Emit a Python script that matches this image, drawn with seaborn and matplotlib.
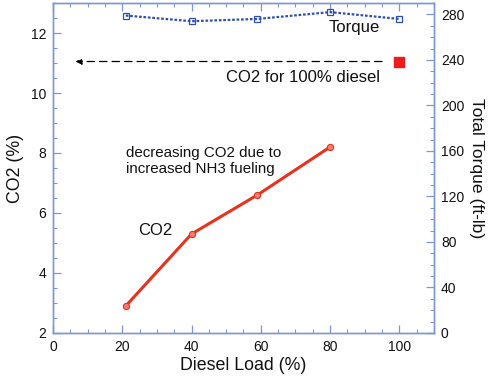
import matplotlib
matplotlib.use("Agg")
import matplotlib.pyplot as plt
from matplotlib.ticker import MultipleLocator
import seaborn as sns
import pandas as pd

sns.set_theme(style="white")
plt.rcParams["font.family"] = ["Liberation Sans", "DejaVu Sans"]

# Data
co2_load = [21, 40, 59, 80]
co2_pct = [2.9, 5.3, 6.6, 8.2]
torque_load = [21, 40, 59, 80, 100]
torque_ftlb = [279, 274, 276, 282, 276]
diesel_only_load = [100]
diesel_only_co2 = [11.05]

spine_c = "#7d96d6"
red = "#e8321e"
blue = "#2f4fb4"
txt = "#111111"

fig = plt.figure(figsize=(4.88, 3.76), dpi=100)
ax = fig.add_axes([0.1086, 0.1144, 0.7807, 0.8776])
ax2 = ax.twinx()

co2_df = pd.DataFrame({"load": co2_load, "co2": co2_pct})
tq_df = pd.DataFrame({"load": torque_load, "torque": torque_ftlb})

sns.lineplot(data=co2_df, x="load", y="co2", ax=ax, color=red, lw=2.2,
             marker="o", markersize=4.5, markerfacecolor="#f08070",
             markeredgecolor=red, markeredgewidth=0.8, zorder=3)
ax.scatter(diesel_only_load, diesel_only_co2, marker="s", s=55,
           color="#ee1c1c", zorder=4)

sns.lineplot(data=tq_df, x="load", y="torque", ax=ax2, color=blue, lw=1.6,
             linestyle=(0, (1.2, 0.8)), marker="s", markersize=4.5,
             markerfacecolor="none", markeredgecolor=blue,
             markeredgewidth=0.9)

# dashed pointer from the 100% diesel point to the CO2 axis
ax.annotate("", xy=(6.5, diesel_only_co2[0]), xytext=(95, diesel_only_co2[0]),
            arrowprops=dict(arrowstyle="-|>", color="black", lw=0.9,
                            linestyle=(0, (6, 4)), mutation_scale=9,
                            shrinkA=0, shrinkB=0))

ax.set_xlim(0, 110)
ax.set_ylim(2, 13)
ax2.set_ylim(0, 290)

ax.xaxis.set_major_locator(MultipleLocator(20))
ax.xaxis.set_minor_locator(MultipleLocator(5))
ax.yaxis.set_major_locator(MultipleLocator(2))
ax.yaxis.set_minor_locator(MultipleLocator(0.5))
ax2.yaxis.set_major_locator(MultipleLocator(40))
ax2.yaxis.set_minor_locator(MultipleLocator(10))

for a in (ax, ax2):
    for s in a.spines.values():
        s.set_color(spine_c)
        s.set_linewidth(1.0)

ax.tick_params(axis="x", which="both", direction="in", top=True, bottom=True,
               color=spine_c, labelsize=10, labelcolor=txt, pad=5)
ax.tick_params(axis="x", which="major", length=6, width=0.9)
ax.tick_params(axis="x", which="minor", length=3, width=0.8)
ax.tick_params(axis="y", which="both", direction="in", left=True, right=False,
               color=spine_c, labelsize=10, labelcolor=txt, pad=5)
ax.tick_params(axis="y", which="major", length=6, width=0.9)
ax.tick_params(axis="y", which="minor", length=3, width=0.8)
ax2.tick_params(axis="y", which="both", direction="in", right=True,
                color=spine_c, labelsize=10, labelcolor=txt, pad=5)
ax2.tick_params(axis="y", which="major", length=6, width=0.9)
ax2.tick_params(axis="y", which="minor", length=3, width=0.8)

ax.set_xlabel("Diesel Load (%)", fontsize=12.8, color=txt, labelpad=2)
ax.set_ylabel("CO2 (%)", fontsize=12.8, color=txt, labelpad=5)
ax2.set_ylabel("Total Torque (ft-lb)", fontsize=12.6, color=txt,
               rotation=270, labelpad=14)

ax.text(87, 12.2, "Torque", fontsize=12, ha="center", va="center", color=txt)
ax.text(94.3, 10.53, "CO2 for 100% diesel", fontsize=12, ha="right",
        va="center", color=txt)
ax.text(21, 7.73, "decreasing CO2 due to\nincreased NH3 fueling",
        fontsize=10.9, ha="left", va="center", color=txt, linespacing=1.2)
ax.text(24.5, 5.4, "CO2", fontsize=12, ha="left", va="center", color=txt)

ax.grid(False)
ax2.grid(False)

fig.savefig("out.png", dpi=100)
